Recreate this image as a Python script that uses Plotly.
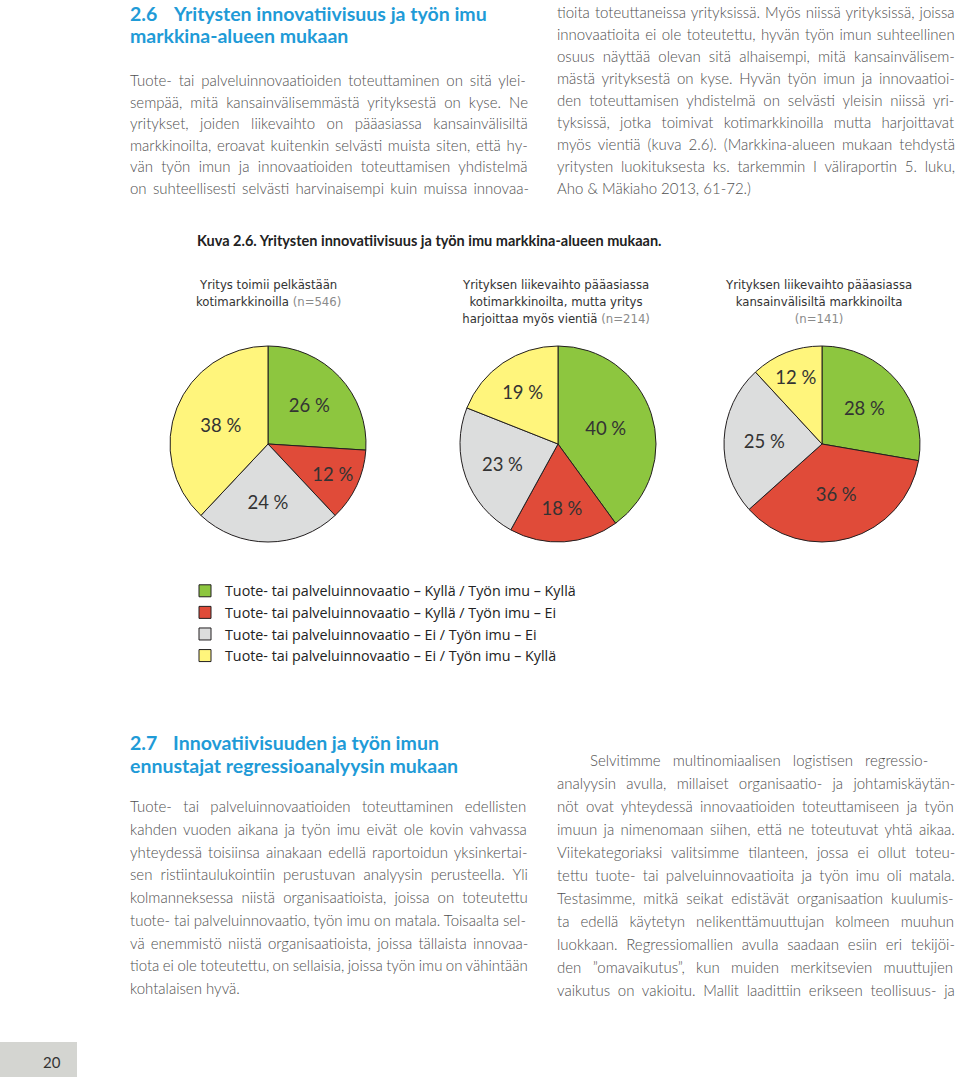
import glob
import os
import struct

import plotly.graph_objects as go

W, H = 960, 1080

categories = [
    "Tuote- tai palveluinnovaatio – Kyllä / Työn imu – Kyllä",
    "Tuote- tai palveluinnovaatio – Kyllä / Työn imu – Ei",
    "Tuote- tai palveluinnovaatio – Ei / Työn imu – Ei",
    "Tuote- tai palveluinnovaatio – Ei / Työn imu – Kyllä",
]
colors = ["#8dc63f", "#e04b39", "#dcdddd", "#fff57c"]

domestic_only = [26, 12, 24, 38]
domestic_export = [40, 18, 23, 19]
international = [28, 36, 25, 12]

pie_titles = [
    "Yritys toimii pelkästään<br>kotimarkkinoilla <span style='color:#8a8a8a'>(n=546)</span>",
    "Yrityksen liikevaihto pääasiassa<br>kotimarkkinoilta, mutta yritys<br>harjoittaa myös vientiä <span style='color:#8a8a8a'>(n=214)</span>",
    "Yrityksen liikevaihto pääasiassa<br>kansainvälisiltä markkinoilta<br><span style='color:#8a8a8a'>(n=141)</span>",
]

top_left_lines = [
    "Tuote- tai palveluinnovaatioiden toteuttaminen on sitä ylei-",
    "sempää, mitä kansainvälisemmästä yrityksestä on kyse. Ne",
    "yritykset, joiden liikevaihto on pääasiassa kansainvälisiltä",
    "markkinoilta, eroavat kuitenkin selvästi muista siten, että hy-",
    "vän työn imun ja innovaatioiden toteuttamisen yhdistelmä",
    "on suhteellisesti selvästi harvinaisempi kuin muissa innovaa-",
]
top_right_lines = [
    "tioita toteuttaneissa yrityksissä. Myös niissä yrityksissä, joissa",
    "innovaatioita ei ole toteutettu, hyvän työn imun suhteellinen",
    "osuus näyttää olevan sitä alhaisempi, mitä kansainvälisem-",
    "mästä yrityksestä on kyse. Hyvän työn imun ja innovaatioi-",
    "den toteuttamisen yhdistelmä on selvästi yleisin niissä yri-",
    "tyksissä, jotka toimivat kotimarkkinoilla mutta harjoittavat",
    "myös vientiä (kuva 2.6). (Markkina-alueen mukaan tehdystä",
    "yritysten luokituksesta ks. tarkemmin I väliraportin 5. luku,",
    "Aho & Mäkiaho 2013, 61-72.)",
]
bottom_left_lines = [
    "Tuote- tai palveluinnovaatioiden toteuttaminen edellisten",
    "kahden vuoden aikana ja työn imu eivät ole kovin vahvassa",
    "yhteydessä toisiinsa ainakaan edellä raportoidun yksinkertai-",
    "sen ristiintaulukointiin perustuvan analyysin perusteella. Yli",
    "kolmanneksessa niistä organisaatioista, joissa on toteutettu",
    "tuote- tai palveluinnovaatio, työn imu on matala. Toisaalta sel-",
    "vä enemmistö niistä organisaatioista, joissa tällaista innovaa-",
    "tiota ei ole toteutettu, on sellaisia, joissa työn imu on vähintään",
    "kohtalaisen hyvä.",
]
bottom_right_lines = [
    "Selvitimme multinomiaalisen logistisen regressio-",
    "analyysin avulla, millaiset organisaatio- ja johtamiskäytän-",
    "nöt ovat yhteydessä innovaatioiden toteuttamiseen ja työn",
    "imuun ja nimenomaan siihen, että ne toteutuvat yhtä aikaa.",
    "Viitekategoriaksi valitsimme tilanteen, jossa ei ollut toteu-",
    "tettu tuote- tai palveluinnovaatioita ja työn imu oli matala.",
    "Testasimme, mitkä seikat edistävät organisaation kuulumis-",
    "ta edellä käytetyn nelikenttämuuttujan kolmeen muuhun",
    "luokkaan. Regressiomallien avulla saadaan esiin eri tekijöi-",
    "den ”omavaikutus”, kun muiden merkitsevien muuttujien",
    "vaikutus on vakioitu. Mallit laadittiin erikseen teollisuus- ja",
]

BODY_FONT = "Lato"
BODY_SIZE = 15
COND_FONT = "DejaVu Sans Condensed, Roboto"
BLUE = "#1f9bd7"
TEXT = "#505050"


# ---- font metrics (for justified body text) ----
def _find_font():
    pats = ["Lato-Light.ttf", "Lato-Regular.ttf"]
    roots = ["/usr/share/fonts", "/usr/local/share/fonts", os.path.expanduser("~/.fonts")]
    for p in pats:
        for r in roots:
            hits = glob.glob(os.path.join(r, "**", p), recursive=True)
            if hits:
                return hits[0]
    return None


def _load_metrics(path):
    data = open(path, "rb").read()
    u16 = lambda o: struct.unpack(">H", data[o:o + 2])[0]
    u32 = lambda o: struct.unpack(">I", data[o:o + 4])[0]
    n = u16(4)
    tables = {}
    for i in range(n):
        rec = 12 + 16 * i
        tables[data[rec:rec + 4].decode("latin1")] = u32(rec + 8)
    upem = u16(tables["head"] + 18)
    nhm = u16(tables["hhea"] + 34)
    hmtx = tables["hmtx"]
    cmap = tables["cmap"]
    sub = None
    for i in range(u16(cmap + 2)):
        rec = cmap + 4 + 8 * i
        plat, enc, off = u16(rec), u16(rec + 2), u32(rec + 4)
        if u16(cmap + off) == 4 and (plat, enc) in ((3, 1), (0, 3), (0, 4), (0, 1)):
            sub = cmap + off
            break
    seg2 = u16(sub + 6)
    ends = sub + 14
    starts = ends + seg2 + 2
    deltas = starts + seg2
    ranges = deltas + seg2

    def gid(c):
        for i in range(seg2 // 2):
            if c <= u16(ends + 2 * i):
                st = u16(starts + 2 * i)
                if c < st:
                    return 0
                d = u16(deltas + 2 * i)
                ro = u16(ranges + 2 * i)
                if ro == 0:
                    return (c + d) & 0xFFFF
                g = u16(ranges + 2 * i + ro + 2 * (c - st))
                return (g + d) & 0xFFFF if g else 0
        return 0

    def adv(g):
        return u16(hmtx + 4 * min(g, nhm - 1))

    def width(s, size):
        return sum(adv(gid(ord(ch))) for ch in s) * size / upem

    return width


try:
    _fp = _find_font()
    text_width = _load_metrics(_fp) if _fp else None
except Exception:
    text_width = None


def justify(line, target):
    if text_width is None or line.count(" ") == 0:
        return line
    extra = (target - text_width(line, BODY_SIZE)) / line.count(" ")
    extra = max(min(extra, 8), -2)
    return "<span style='word-spacing:%.2fpx'>%s</span>" % (extra, line)


def px(x):
    return x / W


def py(y):
    return 1 - y / H


fig = go.Figure()

pie_sets = [domestic_only, domestic_export, international]
pie_boxes = [(170, 366, 346, 542), (459, 657, 346, 542), (724, 920, 346, 542)]
for i, (vals, box) in enumerate(zip(pie_sets, pie_boxes)):
    x0, x1, y0, y1 = box
    fig.add_trace(go.Pie(
        labels=categories,
        values=vals,
        sort=False,
        direction="clockwise",
        rotation=0,
        marker=dict(colors=colors, line=dict(color="#231f20", width=1)),
        texttemplate="%{value} %",
        textposition="inside",
        insidetextorientation="horizontal",
        textfont=dict(family="Lato", size=18.5, color="#333333"),
        domain=dict(x=[px(x0), px(x1)], y=[py(y1), py(y0)]),
        showlegend=(i == 0),
        legendgroup="g",
        hoverinfo="label+percent",
    ))

annotations = []


def add_text(x, y, text, size=15, color=TEXT, family=BODY_FONT, xanchor="left", yanchor="middle",
             align="left", weight="normal"):
    annotations.append(dict(
        x=px(x), y=py(y), xref="paper", yref="paper", text=text, showarrow=False,
        xanchor=xanchor, yanchor=yanchor, align=align, borderpad=0, borderwidth=0,
        font=dict(family=family, size=size, color=color, weight=weight),
    ))


# Headings
HS = 19.5
add_text(130, 13, "<b>2.6</b>", size=HS, color=BLUE)
add_text(173, 13, "<b>Yritysten innovatiivisuus ja työn imu</b>", size=HS, color=BLUE)
add_text(130, 35, "<b>markkina-alueen mukaan</b>", size=HS, color=BLUE)
add_text(130, 742, "<b>2.7</b>", size=HS, color=BLUE)
add_text(173, 742, "<b>Innovatiivisuuden ja työn imun</b>", size=HS, color=BLUE)
add_text(130, 765, "<b>ennustajat regressioanalyysin mukaan</b>", size=HS, color=BLUE)

LEFT_X, LEFT_END = 130, 529
RIGHT_X, RIGHT_END = 557, 956

for k, line in enumerate(top_left_lines):
    add_text(LEFT_X, 80 + 21.6 * k, justify(line, LEFT_END - LEFT_X), size=BODY_SIZE, weight=300)
for k, line in enumerate(top_right_lines):
    last = k == len(top_right_lines) - 1
    t = line if last else justify(line, RIGHT_END - RIGHT_X)
    add_text(RIGHT_X, 11.5 + 22.1 * k, t, size=BODY_SIZE, weight=300)
for k, line in enumerate(bottom_left_lines):
    last = k == len(bottom_left_lines) - 1
    t = line if last else justify(line, LEFT_END - LEFT_X)
    add_text(LEFT_X, 806 + 22.75 * k, t, size=BODY_SIZE, weight=300)
for k, line in enumerate(bottom_right_lines):
    x0 = 590 if k == 0 else RIGHT_X
    add_text(x0, 760 + 23 * k, justify(line, RIGHT_END - x0), size=BODY_SIZE, weight=300)

# Caption
add_text(197, 241, "<b>Kuva 2.6. Yritysten innovatiivisuus ja työn imu markkina-alueen mukaan.</b>",
         size=14.5, color="#222222", family=BODY_FONT)

# Pie titles
for title, cx in zip(pie_titles, [268, 556, 818]):
    add_text(cx, 277, title, size=13, color="#333333", family=COND_FONT,
             xanchor="center", yanchor="top", align="center")

# Page number
add_text(52, 1062, "20", size=15, color="#333333", family=BODY_FONT, xanchor="center")

fig.update_layout(
    width=W, height=H,
    margin=dict(l=0, r=0, t=0, b=0),
    paper_bgcolor="white",
    plot_bgcolor="white",
    annotations=annotations,
    shapes=[dict(type="rect", xref="paper", yref="paper", x0=0, x1=px(77), y0=py(1077), y1=py(1042),
                 fillcolor="#d4d5d1", line=dict(width=0), layer="below")],
    legend=dict(
        x=px(185), y=py(575), xanchor="left", yanchor="top",
        font=dict(family="Open Sans", size=14.3, color="#222222"),
        traceorder="normal", bgcolor="rgba(0,0,0,0)",
    ),
    uniformtext=dict(minsize=18, mode="show"),
)

fig.write_html("out.html", config={"displayModeBar": False},
               post_script="document.body.style.margin='0';")
